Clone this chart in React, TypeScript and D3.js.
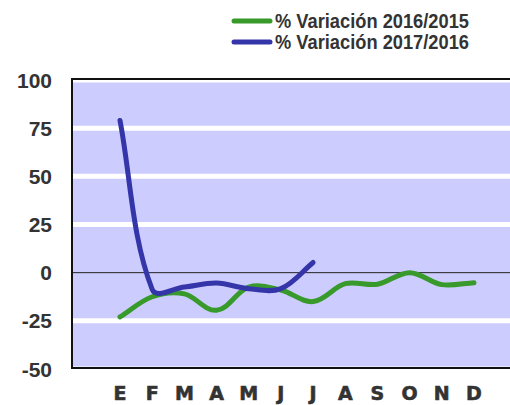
import React from "react";
import * as d3 from "d3";

const months = ["E", "F", "M", "A", "M", "J", "J", "A", "S", "O", "N", "D"];
const yTicks = [100, 75, 50, 25, 0, -25, -50];
const var2016 = [-23, -12.5, -11, -19.5, -7.5, -9, -15, -5.7, -6, 0, -6.2, -5.2];
const var2017 = [79, -8.7, -7.4, -5.4, -8.3, -8.3, 5.3];
const seriesNames = ["% Variación 2016/2015", "% Variación 2017/2016"];
const seriesColors = ["#379a2a", "#3535aa"];

// curva suavizada estilo Excel: tangente paralela a (P[i+1]-P[i-1]),
// brazo proporcional a la longitud de cada tramo adyacente
class SmoothCurve {
  _context: any;
  _pts: [number, number][] = [];
  constructor(context: any) {
    this._context = context;
  }
  areaStart() {}
  areaEnd() {}
  lineStart() {
    this._pts = [];
  }
  point(x: number, y: number) {
    this._pts.push([+x, +y]);
  }
  lineEnd() {
    const p = this._pts;
    const ctx = this._context;
    const n = p.length;
    if (!n) return;
    ctx.moveTo(p[0][0], p[0][1]);
    if (n === 1) return;
    const k = 1 / 3;
    const dist = (a: [number, number], b: [number, number]) =>
      Math.hypot(b[0] - a[0], b[1] - a[1]);
    const dir = (i: number): [number, number] => {
      const a = p[Math.max(0, i - 1)];
      const b = p[Math.min(n - 1, i + 1)];
      const l = dist(a, b) || 1;
      return [(b[0] - a[0]) / l, (b[1] - a[1]) / l];
    };
    for (let i = 0; i < n - 1; i++) {
      const a = p[i];
      const b = p[i + 1];
      const L = dist(a, b);
      let c1: [number, number];
      let c2: [number, number];
      if (i === 0) {
        c1 = [a[0] + (b[0] - a[0]) * k, a[1] + (b[1] - a[1]) * k];
      } else {
        const d = dir(i);
        c1 = [a[0] + d[0] * L * k, a[1] + d[1] * L * k];
      }
      if (i + 1 === n - 1) {
        c2 = [b[0] - (b[0] - a[0]) * k, b[1] - (b[1] - a[1]) * k];
      } else {
        const d = dir(i + 1);
        c2 = [b[0] - d[0] * L * k, b[1] - d[1] * L * k];
      }
      ctx.bezierCurveTo(c1[0], c1[1], c2[0], c2[1], b[0], b[1]);
    }
  }
}

const curveSmooth = (context: any) => new SmoothCurve(context);

export default function App() {
  const width = 510;
  const height = 405;
  const left = 72;
  const top = 79;
  const bottom = 368;

  const xScale = d3
    .scalePoint<number>()
    .domain(months.map((_, i) => i))
    .range([120, 474]);

  const yScale = d3.scaleLinear().domain([-50, 100]).range([369, 80]);

  const line = d3
    .line<number>()
    .x((_, i) => xScale(i) as number)
    .y((d) => yScale(d))
    .curve(curveSmooth as any);

  return (
    <svg
      width={width}
      height={height}
      style={{ position: "absolute", left: 0, top: 0 }}
    >
      {/* fondo del área de trazado */}
      <rect x={left} y={top} width={width - left} height={bottom - top} fill="#ccccff" />

      {/* líneas de cuadrícula */}
      {yTicks.map((t) => (
        <line
          key={t}
          x1={left}
          x2={width}
          y1={yScale(t)}
          y2={yScale(t)}
          stroke={t === 0 ? "#222" : "#fff"}
          strokeWidth={t === 0 ? 1 : 5}
        />
      ))}

      {/* bordes */}
      <line x1={left} x2={width} y1={top} y2={top} stroke="#111" strokeWidth={2} />
      <line x1={left} x2={width} y1={bottom} y2={bottom} stroke="#111" strokeWidth={2} />
      <line x1={left} x2={left} y1={top - 1} y2={bottom + 1} stroke="#111" strokeWidth={2} />

      {/* etiquetas eje Y */}
      {yTicks.map((t) => (
        <text
          key={t}
          x={52}
          y={yScale(t)}
          textAnchor="end"
          dominantBaseline="central"
          fontFamily="Liberation Sans, Arial, sans-serif"
          fontWeight="bold"
          fontSize={21}
          fill="#333"
        >
          {t}
        </text>
      ))}

      {/* etiquetas eje X */}
      {months.map((m, i) => (
        <text
          key={i}
          x={xScale(i)}
          y={400}
          textAnchor="middle"
          fontFamily="DejaVu Sans, sans-serif"
          fontWeight="bold"
          fontSize={19}
          fill="#333"
          stroke="#333"
          strokeWidth={0.6}
        >
          {m}
        </text>
      ))}

      {/* series */}
      <path
        d={line(var2016) || ""}
        fill="none"
        stroke={seriesColors[0]}
        strokeWidth={5}
        strokeLinecap="round"
      />
      <path
        d={line(var2017) || ""}
        fill="none"
        stroke={seriesColors[1]}
        strokeWidth={5}
        strokeLinecap="round"
      />

      {/* leyenda */}
      {seriesNames.map((name, i) => (
        <g key={name} transform={`translate(0, ${i * 21})`}>
          <line
            x1={234}
            x2={270}
            y1={21}
            y2={21}
            stroke={seriesColors[i]}
            strokeWidth={5}
            strokeLinecap="round"
          />
          <text
            x={275}
            y={28}
            fontFamily="Liberation Sans, Arial, sans-serif"
            fontWeight="bold"
            fontSize={20}
            fill="#333"
            textLength={194}
            lengthAdjust="spacingAndGlyphs"
          >
            {name}
          </text>
        </g>
      ))}
    </svg>
  );
}
